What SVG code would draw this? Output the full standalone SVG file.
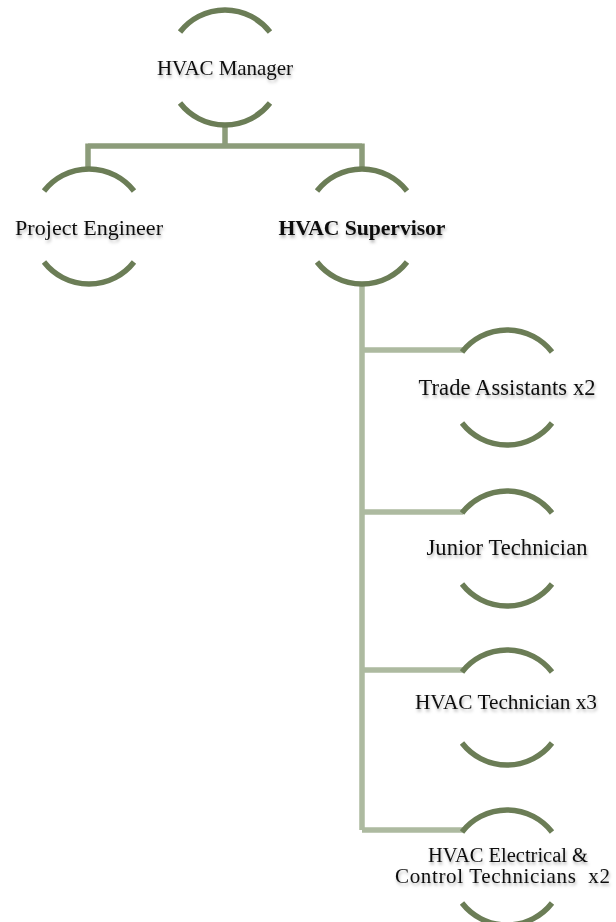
<svg xmlns="http://www.w3.org/2000/svg" width="616" height="922" viewBox="0 0 616 922">
<style>
.arc{fill:none;stroke:#6b7d56;stroke-width:5.5}
.conn{fill:none;stroke-width:5.5;stroke-linecap:butt}
.c1{stroke:#8c9c7a}
.c2{stroke:#adbaa0}
.t{font-family:"Liberation Serif","Times New Roman",serif;font-size:21px;fill:#111;text-anchor:middle;white-space:pre;filter:url(#sh)}
.b{font-weight:bold}
</style>
<defs>
<filter id="sh" x="-10%" y="-30%" width="120%" height="180%">
<feDropShadow dx="1" dy="2.5" stdDeviation="1.8" flood-color="#000" flood-opacity="0.3"/>
</filter>
</defs>
<g id="connectors">
<path class="conn c1" d="M225 125V146M88 146H362M88 143.5V169M362 143.5V169"/>
<path class="conn c2" d="M362 284V830M362 350H463M362 512H463M362 670H463M362 830H463"/>
</g>
<g id="n-manager">
<path class="arc" d="M180 32A57 57 0 0 1 270 32M180 103A57 57 0 0 0 270 103"/>
<text class="t" x="225" y="75" textLength="136" lengthAdjust="spacing">HVAC Manager</text>
</g>
<g id="n-engineer">
<path class="arc" d="M44 191A57 57 0 0 1 134 191M44 262A57 57 0 0 0 134 262"/>
<text class="t" x="89" y="235" font-size="22" style="font-size:22px" textLength="148" lengthAdjust="spacing">Project Engineer</text>
</g>
<g id="n-supervisor">
<path class="arc" d="M317 191A57 57 0 0 1 407 191M317 262A57 57 0 0 0 407 262"/>
<text class="t b" x="362" y="235" style="font-size:21.7px" textLength="167" lengthAdjust="spacing">HVAC Supervisor</text>
</g>
<g id="n-trade">
<path class="arc" d="M462 352A57 57 0 0 1 552 352M462 423A57 57 0 0 0 552 423"/>
<text class="t" x="507" y="395" style="font-size:22.5px" textLength="177" lengthAdjust="spacing">Trade Assistants x2</text>
</g>
<g id="n-junior">
<path class="arc" d="M462 513A57 57 0 0 1 552 513M462 584A57 57 0 0 0 552 584"/>
<text class="t" x="507" y="555" style="font-size:22.5px" textLength="161" lengthAdjust="spacing">Junior Technician</text>
</g>
<g id="n-hvactech">
<path class="arc" d="M462 672A57 57 0 0 1 552 672M462 743A57 57 0 0 0 552 743"/>
<text class="t" x="506" y="709" style="font-size:21.3px" textLength="182" lengthAdjust="spacing">HVAC Technician x3</text>
</g>
<g id="n-electrical">
<path class="arc" d="M462 832A57 57 0 0 1 552 832M462 903A57 57 0 0 0 552 903"/>
<text class="t" x="508" y="862" style="font-size:20.5px" textLength="160" lengthAdjust="spacing">HVAC Electrical &amp;</text>
<text class="t" x="502.5" y="883" style="font-size:21px" textLength="215" lengthAdjust="spacing">Control Technicians  x2</text>
</g>
</svg>
